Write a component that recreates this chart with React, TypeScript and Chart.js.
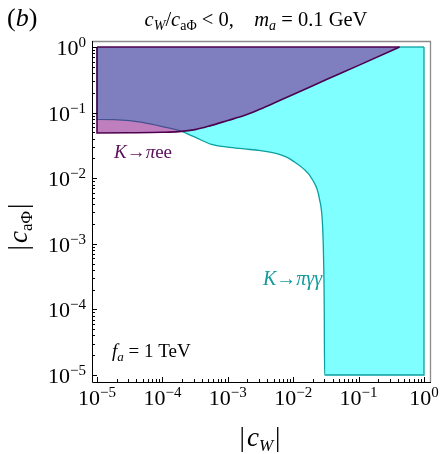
import React, { useEffect, useRef } from 'react';
import { Chart, registerables } from 'chart.js';
Chart.register(...registerables);

// K -> pi e e excluded region boundary (|c_W|, |c_aPhi|)
const eeX = [1e-5, 1e-5, 3.162e-5, 1e-4, 1.778e-4, 3.162e-4, 5.623e-4, 1e-3, 1.778e-3, 3.162e-3, 5.623e-3, 1e-2, 3.162e-2, 0.1, 0.3162, 0.4227];
const eeY = [1, 0.04898, 0.04932, 0.05012, 0.05129, 0.05495, 0.06383, 0.07586, 0.09016, 0.1135, 0.1462, 0.1884, 0.3162, 0.5248, 0.877, 1];

// K -> pi gamma gamma excluded region boundary
const ggX = [1e-5, 1e-5, 3.162e-5, 5.623e-5, 1e-4, 1.778e-4, 3.162e-4, 5.623e-4, 1e-3, 1.778e-3, 3.162e-3, 5.623e-3, 7.943e-3, 1e-2, 1.413e-2, 1.995e-2, 2.512e-2, 2.818e-2, 2.917e-2, 2.985e-2, 3.02e-2, 1, 1];
const ggY = [1, 0.0791, 0.0753, 0.0692, 0.0612, 0.0535, 0.0422, 0.0327, 0.0297, 0.0279, 0.0263, 0.0236, 0.0209, 0.0182, 0.01413, 0.00933, 0.0049, 0.00182, 5.6e-4, 1e-4, 1e-5, 1e-5, 1];

// top edges of the regions
const eeTopX = [1e-5, 0.4227];
const eeTopY = [1, 1];
const ggTopX = [0.4227, 1];
const ggTopY = [1, 1];

const xDecades = [-5, -4, -3, -2, -1, 0];
const yDecades = [-5, -4, -3, -2, -1, 0];

const SERIF = '"Liberation Serif", "Times New Roman", serif';
const fnt = (size: number, it?: boolean) => `${it ? 'italic ' : ''}${size}px ${SERIF}`;

type Seg = { t: string; it?: boolean; s?: number; dy?: number; dx?: number };

function richWidth(ctx: CanvasRenderingContext2D, segs: Seg[], base: number) {
  let w = 0;
  for (const s of segs) {
    ctx.font = fnt(s.s ?? base, s.it);
    w += ctx.measureText(s.t).width + (s.dx ?? 0);
  }
  return w;
}

function drawRich(ctx: CanvasRenderingContext2D, segs: Seg[], x: number, y: number, base: number, align: string, color: string) {
  const w = richWidth(ctx, segs, base);
  let cx = align === 'left' ? x : align === 'center' ? x - w / 2 : x - w;
  ctx.fillStyle = color;
  ctx.textAlign = 'left';
  ctx.textBaseline = 'alphabetic';
  for (const s of segs) {
    ctx.font = fnt(s.s ?? base, s.it);
    cx += s.dx ?? 0;
    ctx.fillText(s.t, cx, y + (s.dy ?? 0));
    cx += ctx.measureText(s.t).width;
  }
}

const pts = (xs: number[], ys: number[]) => xs.map((x, i) => ({ x, y: ys[i] }));

const TEAL = '#0aa0a0';
const DPURPLE = '#4d004d';

const framePlugin = {
  id: 'frame',
  beforeDraw(chart: any) {
    const ctx = chart.ctx;
    ctx.save();
    ctx.fillStyle = '#ffffff';
    ctx.fillRect(0, 0, chart.width, chart.height);
    ctx.restore();
  },
  afterDraw(chart: any) {
    const ctx: CanvasRenderingContext2D = chart.ctx;
    const { left, right, top, bottom } = chart.chartArea;
    const xs = chart.scales.x;
    const ys = chart.scales.y;
    ctx.save();
    // gray frame top/right
    ctx.strokeStyle = '#8a8a8a';
    ctx.lineWidth = 1.3;
    ctx.beginPath();
    ctx.moveTo(left, top + 0.5);
    ctx.lineTo(right - 0.5, top + 0.5);
    ctx.lineTo(right - 0.5, bottom);
    ctx.stroke();
    // black axes left/bottom
    ctx.strokeStyle = '#000';
    ctx.lineWidth = 1;
    ctx.beginPath();
    ctx.moveTo(left + 0.5, top);
    ctx.lineTo(left + 0.5, bottom + 0.5);
    ctx.lineTo(right, bottom + 0.5);
    ctx.stroke();
    // ticks
    ctx.beginPath();
    for (const d of xDecades) {
      for (let k = 1; k <= 9; k++) {
        const v = k * Math.pow(10, d);
        if (v > xs.max) break;
        const px = Math.round(xs.getPixelForValue(v)) + 0.5;
        const len = k === 1 ? 5 : 3;
        ctx.moveTo(px, bottom);
        ctx.lineTo(px, bottom - len);
      }
    }
    for (const d of yDecades) {
      for (let k = 1; k <= 9; k++) {
        const v = k * Math.pow(10, d);
        if (v > ys.max) break;
        const py = Math.round(ys.getPixelForValue(v)) + 0.5;
        const len = k === 1 ? 5 : 3;
        ctx.moveTo(left, py);
        ctx.lineTo(left + len, py);
      }
    }
    ctx.stroke();
    // tick labels
    const expStr = (d: number) => (d < 0 ? '\u2212' + Math.abs(d) : String(d));
    for (const d of xDecades) {
      const px = xs.getPixelForValue(Math.pow(10, d));
      drawRich(ctx, [{ t: '10' }, { t: expStr(d), s: 15, dy: -8 }], px, 405, 22, 'center', '#000');
    }
    for (const d of yDecades) {
      const py = ys.getPixelForValue(Math.pow(10, d));
      drawRich(ctx, [{ t: '10' }, { t: expStr(d), s: 15, dy: -8 }], 86, py + 8, 22, 'right', '#000');
    }
    // axis titles
    drawRich(ctx, [{ t: '|' }, { t: 'c', it: true, dx: 2 }, { t: 'W', it: true, s: 17, dy: 5 }, { t: '|', dx: 2 }], 260, 446, 27, 'center', '#000');
    ctx.save();
    ctx.translate(27, 227);
    ctx.rotate(-Math.PI / 2);
    drawRich(ctx, [{ t: '|' }, { t: 'c', it: true, dx: 2 }, { t: 'a\u03A6', s: 17, dy: 5 }, { t: '|', dx: 2 }], 0, 0, 27, 'center', '#000');
    ctx.restore();
    // title and panel label
    drawRich(ctx, [{ t: '(' }, { t: 'b', it: true }, { t: ')' }], 7, 26, 26, 'left', '#000');
    drawRich(ctx, [
      { t: 'c', it: true }, { t: 'W', it: true, s: 14, dy: 4 }, { t: '/' }, { t: 'c', it: true }, { t: 'a\u03A6', s: 14, dy: 4 },
      { t: ' < 0,    ' }, { t: 'm', it: true }, { t: 'a', it: true, s: 14, dy: 4 }, { t: ' = 0.1 GeV' },
    ], 256, 26, 20.5, 'center', '#000');
    // annotations
    drawRich(ctx, [{ t: 'K', it: true }, { t: '\u2192' }, { t: '\u03C0', it: true }, { t: 'ee' }], 114, 158, 19, 'left', '#5a0f5a');
    drawRich(ctx, [{ t: 'K', it: true }, { t: '\u2192' }, { t: '\u03C0\u03B3\u03B3', it: true }], 263, 285, 20, 'left', '#139a9a');
    drawRich(ctx, [{ t: 'f', it: true }, { t: 'a', it: true, s: 13, dy: 4 }, { t: ' = 1 TeV' }], 112, 357, 19, 'left', '#000');
    ctx.restore();
  },
};

export default function App() {
  const ref = useRef<HTMLCanvasElement>(null);
  useEffect(() => {
    if (!ref.current) return;
    const chart = new Chart(ref.current, {
      type: 'scatter',
      data: {
        datasets: [
          { data: pts(eeTopX, eeTopY), showLine: true, borderColor: DPURPLE, borderWidth: 1.6, pointRadius: 0, fill: false },
          { data: pts(eeX, eeY), showLine: true, borderColor: DPURPLE, borderWidth: 1.6, backgroundColor: 'rgba(128,0,128,0.5)', pointRadius: 0, fill: { value: 1 }, cubicInterpolationMode: 'monotone' },
          { data: pts(ggTopX, ggTopY), showLine: true, borderColor: TEAL, borderWidth: 1.3, pointRadius: 0, fill: false },
          { data: pts(ggX, ggY), showLine: true, borderColor: TEAL, borderWidth: 1.3, backgroundColor: 'rgba(0,255,255,0.5)', pointRadius: 0, fill: { value: 1 }, cubicInterpolationMode: 'monotone' },
        ],
      } as any,
      options: {
        animation: false,
        responsive: false,
        devicePixelRatio: 1,
        layout: { padding: { left: 92, right: 11, top: 41, bottom: 72 } },
        elements: { line: { tension: 0 } },
        scales: {
          x: { type: 'logarithmic', display: false, bounds: 'data', min: Math.pow(10, -5.0765), max: Math.pow(10, 0.107) },
          y: { type: 'logarithmic', display: false, bounds: 'data', min: Math.pow(10, -5.107), max: Math.pow(10, 0.0915) },
        },
        plugins: { legend: { display: false }, tooltip: { enabled: false } },
      } as any,
      plugins: [framePlugin],
    });
    return () => chart.destroy();
  }, []);
  return (
    <div style={{ position: 'absolute', left: 0, top: 0, width: 442, height: 454 }}>
      <canvas ref={ref} width={442} height={454} style={{ display: 'block' }} />
    </div>
  );
}
